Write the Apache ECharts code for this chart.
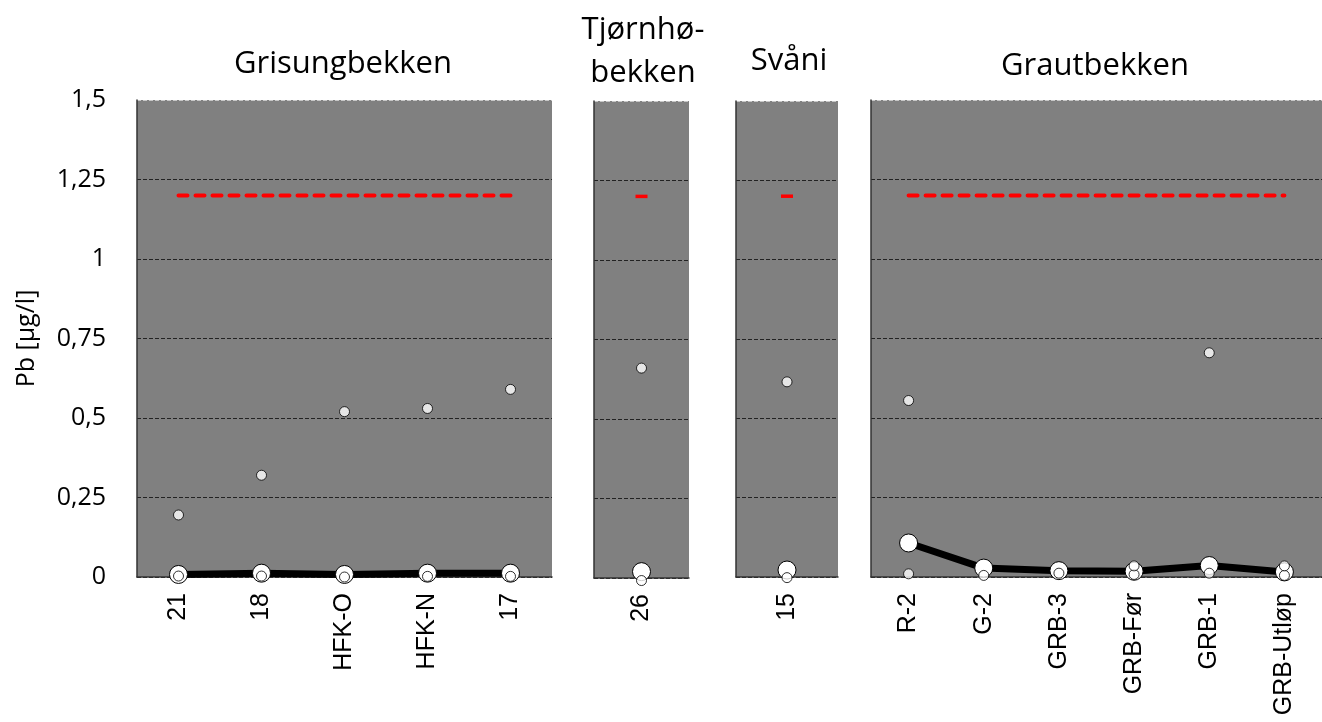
<!DOCTYPE html>
<html>
<head>
<meta charset="utf-8">
<script src="https://cdn.jsdelivr.net/npm/echarts@6/dist/echarts.min.js"></script>
<style>
  html, body { margin: 0; padding: 0; background: #fff; }
  #chart { width: 1322px; height: 722px; }
</style>
</head>
<body>
<div id="chart"></div>
<script>
// categories per panel
const cats1 = ['21', '18', 'HFK-O', 'HFK-N', '17'];
const cats2 = ['26'];
const cats3 = ['15'];
const cats4 = ['R-2', 'G-2', 'GRB-3', 'GRB-Før', 'GRB-1', 'GRB-Utløp'];

// upper small dots
const maxVals1 = [0.195, 0.32, 0.52, 0.53, 0.59];
const maxVals2 = [0.66];
const maxVals3 = [0.615];
const maxVals4 = [0.555, null, null, null, 0.705, null];

// big circles joined by the black line
const meanVals1 = [0.008, 0.012, 0.008, 0.012, 0.012];
const meanVals2 = [0.02];
const meanVals3 = [0.022];
const meanVals4 = [0.107, 0.028, 0.02, 0.018, 0.036, 0.016];

// lower small dots
const minVals1 = [0.003, 0.003, 0.0, 0.002, 0.002];
const minVals2 = [-0.008];
const minVals3 = [-0.002];
const minVals4 = [0.01, 0.005, 0.012, 0.008, 0.012, 0.005];
const extraVals4 = [null, null, null, 0.035, null, 0.035];

// limit value (red dashes)
const limit1 = [1.2, 1.2, 1.2, 1.2, 1.2];
const limit2 = [1.2];
const limit3 = [1.2];
const limit4 = [1.2, 1.2, 1.2, 1.2, 1.2, 1.2];

const yTicks = ['0', '0,25', '0,5', '0,75', '1', '1,25', '1,5'];
const titles = ['Grisungbekken', 'Tjørnhø-\nbekken', 'Svåni', 'Grautbekken'];

const panels = [
  { cats: cats1, max: maxVals1, mean: meanVals1, min: minVals1, limit: limit1 },
  { cats: cats2, max: maxVals2, mean: meanVals2, min: minVals2, limit: limit2 },
  { cats: cats3, max: maxVals3, mean: meanVals3, min: minVals3, limit: limit3 },
  { cats: cats4, max: maxVals4, mean: meanVals4, min: minVals4, limit: limit4, extra: extraVals4 }
];

let chartDom = document.getElementById('chart');
let myChart = echarts.init(chartDom);

const grids = [
  { left: 137, top: 100, width: 415, height: 477 },
  { left: 594, top: 101, width: 95, height: 477 },
  { left: 736, top: 101, width: 102, height: 476 },
  { left: 871, top: 100, width: 455, height: 477 }
];

const dot = (size) => ({
  symbol: 'circle',
  symbolSize: size,
  itemStyle: { color: '#fff', borderColor: '#000', borderWidth: 1 }
});

let xAxes = [], yAxes = [], series = [];
panels.forEach((p, i) => {
  xAxes.push({
    type: 'category',
    gridIndex: i,
    data: p.cats,
    axisLine: { lineStyle: { color: '#333', width: 1.5 } },
    axisTick: { show: false },
    axisLabel: {
      rotate: 90,
      color: '#000',
      fontFamily: 'Liberation Sans',
      fontSize: 25,
      margin: 16
    }
  });
  yAxes.push({
    type: 'value',
    gridIndex: i,
    min: 0,
    max: 1.5,
    interval: 0.25,
    name: i === 0 ? 'Pb [µg/l]' : '',
    nameLocation: 'middle',
    nameGap: 98,
    nameTextStyle: { fontFamily: 'Open Sans', fontSize: 25, color: '#000' },
    axisLine: { show: true, lineStyle: { color: '#333', width: 1.5 } },
    axisTick: { show: false },
    axisLabel: {
      show: i === 0,
      color: '#000',
      fontFamily: 'Open Sans',
      fontSize: 25,
      margin: 31,
      formatter: (v) => yTicks[Math.round(v / 0.25)]
    },
    splitLine: {
      show: true,
      lineStyle: {
        type: 'dashed',
        color: ['#222', '#222', '#222', '#222', '#222', '#222', '#c8c8c8'],
        width: 1
      }
    }
  });

  series.push({
    name: 'limit',
    type: 'line',
    xAxisIndex: i, yAxisIndex: i,
    data: p.limit,
    symbol: 'rect',
    symbolSize: [12, 3.5],
    showSymbol: p.cats.length === 1,
    itemStyle: { color: '#ff0000' },
    lineStyle: { color: '#ff0000', width: 4, type: [9, 8], cap: 'round' },
    z: 3
  });
  series.push(Object.assign({
    name: 'mean',
    type: 'line',
    xAxisIndex: i, yAxisIndex: i,
    data: p.mean,
    clip: false,
    lineStyle: { color: '#000', width: 7 },
    z: 4
  }, dot(18)));
  series.push(Object.assign({
    name: 'min',
    type: 'scatter',
    xAxisIndex: i, yAxisIndex: i,
    data: p.min,
    clip: false,
    z: 5
  }, dot(10)));
  if (p.extra) {
    series.push(Object.assign({
      name: 'extra',
      type: 'scatter',
      xAxisIndex: i, yAxisIndex: i,
      data: p.extra,
      clip: false,
      z: 5
    }, dot(10)));
  }
  series.push(Object.assign({
    name: 'max',
    type: 'scatter',
    xAxisIndex: i, yAxisIndex: i,
    data: p.max,
    z: 5
  }, dot(10)));
});

const titlePos = [
  { left: 338, top: 38 },
  { left: 638, top: 4 },
  { left: 784, top: 35 },
  { left: 1090, top: 40 }
];

let option = {
  animation: false,
  backgroundColor: '#fff',
  title: titles.map((t, i) => ({
    text: t,
    left: titlePos[i].left,
    top: titlePos[i].top,
    textAlign: 'center',
    textStyle: {
      fontFamily: 'Open Sans',
      fontWeight: 'normal',
      fontSize: 31,
      color: '#000',
      lineHeight: 43
    }
  })),
  grid: grids.map(g => Object.assign({ show: true, backgroundColor: '#808080', borderWidth: 0 }, g)),
  xAxis: xAxes,
  yAxis: yAxes,
  series: series
};

option && myChart.setOption(option);
</script>
</body>
</html>
